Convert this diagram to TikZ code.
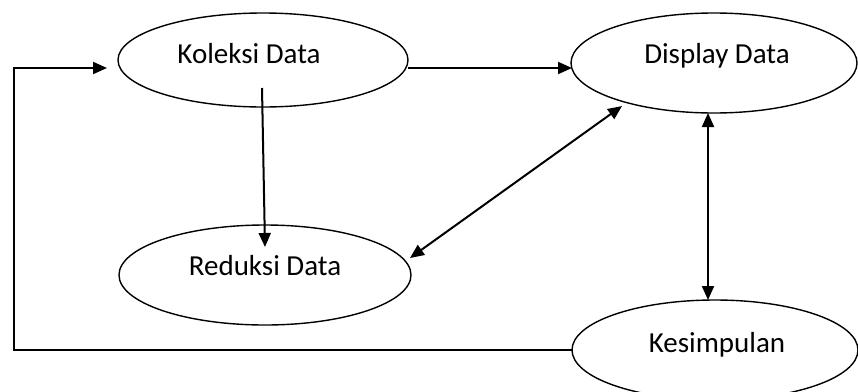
\documentclass[tikz,border=0pt]{standalone}
\usepackage{fontspec}
\setmainfont{Carlito}
\usetikzlibrary{shapes.geometric,arrows.meta,calc}
\begin{document}
\begin{tikzpicture}[x=1pt,y=-1pt,
  oval/.style={draw=black, line width=1.4pt, ellipse, inner sep=0pt, outer sep=0pt, fill=white},
  lbl/.style={anchor=base, inner sep=0pt, font=\fontsize{29}{34}\selectfont},
  arr/.style={line width=2pt, -{Triangle[length=14pt,width=12pt]}},
  darr/.style={line width=2pt, {Triangle[length=14pt,width=12pt]}-{Triangle[length=14pt,width=12pt]}}]
\fill[white] (0,0) rectangle (858,391);
\useasboundingbox (0,0) rectangle (858,391);
% ovals
\node[oval, minimum width=290pt, minimum height=94pt] (kol) at (263,60) {};
\node[oval, minimum width=286pt, minimum height=100pt] (disp) at (714,63) {};
\node[oval, minimum width=292pt, minimum height=100pt] (red) at (265,275) {};
\node[oval, minimum width=286pt, minimum height=100pt] (kes) at (715,350) {};
% labels
\node[lbl] (kolT) at (249,63) {Koleksi Data};
\node[lbl] (dispT) at (717,63) {Display Data};
\node[lbl] (redT) at (265,275) {Reduksi Data};
\node[lbl] (kesT) at (717,352) {Kesimpulan};
% connectors
\draw[arr] ($(kol.center)+(145,8)$) -- ($(disp.center)+(-142,5)$);
\draw[arr] ($(kol.center)+(-1,28)$) -- ($(red.center)+(0,-28)$);
\draw[darr] ($(red.center)+(145,-17)$) -- ($(disp.center)+(-92,43)$);
\draw[darr] ($(disp.center)+(-6,50)$) -- ($(kes.center)+(-7,-50)$);
\coordinate (fb) at (14,350);
\draw[arr] (kes.west) -- (fb) |- ($(kol.center)+(-156,8)$);
\end{tikzpicture}
\end{document}
